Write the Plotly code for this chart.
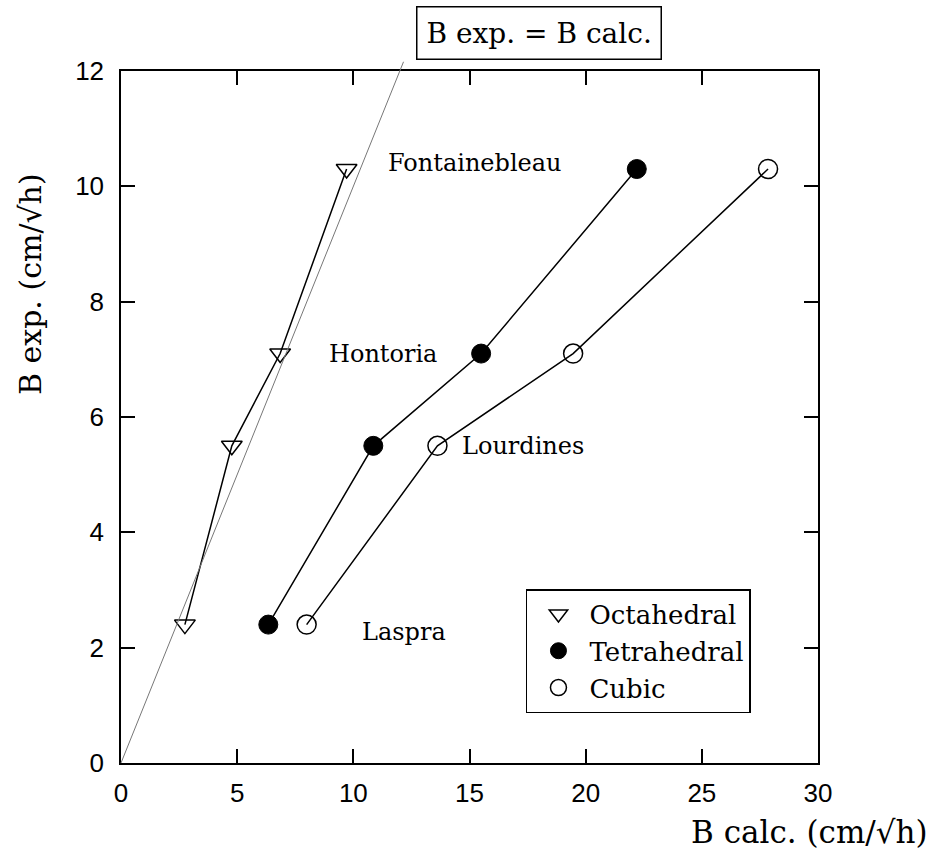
import plotly.graph_objects as go

# B values in cm/sqrt(h) for four sandstones (Laspra, Lourdines, Hontoria, Fontainebleau)
b_exp = [2.4, 5.5, 7.1, 10.3]
b_calc_octahedral = [2.75, 4.77, 6.85, 9.71]
b_calc_tetrahedral = [6.34, 10.86, 15.5, 22.2]
b_calc_cubic = [7.99, 13.62, 19.46, 27.85]

stone_names = ["Laspra", "Lourdines", "Hontoria", "Fontainebleau"]
stone_label_x = [12.18, 17.3, 11.28, 15.24]
stone_label_y = [2.27, 5.5, 7.09, 10.4]

x_ticks = [0, 5, 10, 15, 20, 25, 30]
y_ticks = [0, 2, 4, 6, 8, 10, 12]
x_range = [0, 30]
y_range = [0, 12]
identity_end = 12.16  # the B exp. = B calc. line runs from the origin up to its label box

SERIF = "DejaVu Serif"
SANS = "Liberation Sans"

fig = go.Figure()

line_style = dict(color="black", width=1.5)
series = [
    ("Octahedral", b_calc_octahedral,
     dict(symbol="triangle-down-open", size=18, color="black", line=dict(width=1.5, color="black"))),
    ("Tetrahedral", b_calc_tetrahedral,
     dict(symbol="circle", size=19, color="black", line=dict(width=1, color="black"))),
    ("Cubic", b_calc_cubic,
     dict(symbol="circle-open", size=19, color="black", line=dict(width=1.5, color="black"))),
]

for name, xs, marker in series:
    fig.add_trace(go.Scatter(
        x=xs, y=b_exp, mode="lines+markers", line=line_style, marker=marker,
        showlegend=False, cliponaxis=False, hoverinfo="x+y",
    ))

# marker-only entries for the legend
for name, xs, marker in series:
    fig.add_trace(go.Scatter(
        x=[None], y=[None], mode="markers", marker=marker, name=name, showlegend=True,
    ))

# identity line B exp. = B calc., drawn in axis fractions so it can run past the top axis
fig.add_shape(
    type="line", xref="paper", yref="paper",
    x0=0, y0=0,
    x1=identity_end / (x_range[1] - x_range[0]),
    y1=identity_end / (y_range[1] - y_range[0]),
    line=dict(color="#777777", width=1),
)

annotations = []
for name, lx, ly in zip(stone_names, stone_label_x, stone_label_y):
    annotations.append(dict(
        x=lx, y=ly, xref="x", yref="y", text=name, showarrow=False,
        font=dict(family=SERIF, size=24, color="black"),
        xanchor="center", yanchor="middle",
    ))

annotations.append(dict(
    x=0.6004, y=1.0549, xref="paper", yref="paper", text="B exp. = B calc.",
    showarrow=False, font=dict(family=SERIF, size=28, color="black"),
    xanchor="center", yanchor="middle",
    bordercolor="black", borderwidth=1.5, borderpad=9, bgcolor="white",
))

annotations.append(dict(
    x=0.9885, y=-0.0997, xref="paper", yref="paper",
    text="B calc. (cm/√h)", showarrow=False,
    font=dict(family=SERIF, size=31, color="black"),
    xanchor="center", yanchor="middle",
))
annotations.append(dict(
    x=-0.1306, y=0.692, xref="paper", yref="paper",
    text="B exp. (cm/√h)", showarrow=False, textangle=-90,
    font=dict(family=SERIF, size=30, color="black"),
    xanchor="center", yanchor="middle",
))

axis_common = dict(
    showline=True, linecolor="black", linewidth=1.5, mirror="ticks",
    ticks="inside", ticklen=14, tickwidth=1.5, tickcolor="black",
    showgrid=False, zeroline=False,
    tickfont=dict(family=SANS, size=26, color="black"),
)

fig.update_layout(
    width=935, height=856,
    margin=dict(l=121, r=117, t=71, b=93),
    paper_bgcolor="white", plot_bgcolor="white",
    xaxis=dict(range=x_range, tickvals=x_ticks, ticklabelstandoff=6, **axis_common),
    yaxis=dict(range=y_range, tickvals=y_ticks, ticklabelstandoff=10, **axis_common),
    legend=dict(
        x=0.581, y=0.2514, xanchor="left", yanchor="top",
        bordercolor="black", borderwidth=1.5, bgcolor="white",
        font=dict(family=SERIF, size=26, color="black"),
        itemwidth=52, tracegroupgap=0,
    ),
    annotations=annotations,
    showlegend=True,
)

fig.write_html("out.html")
